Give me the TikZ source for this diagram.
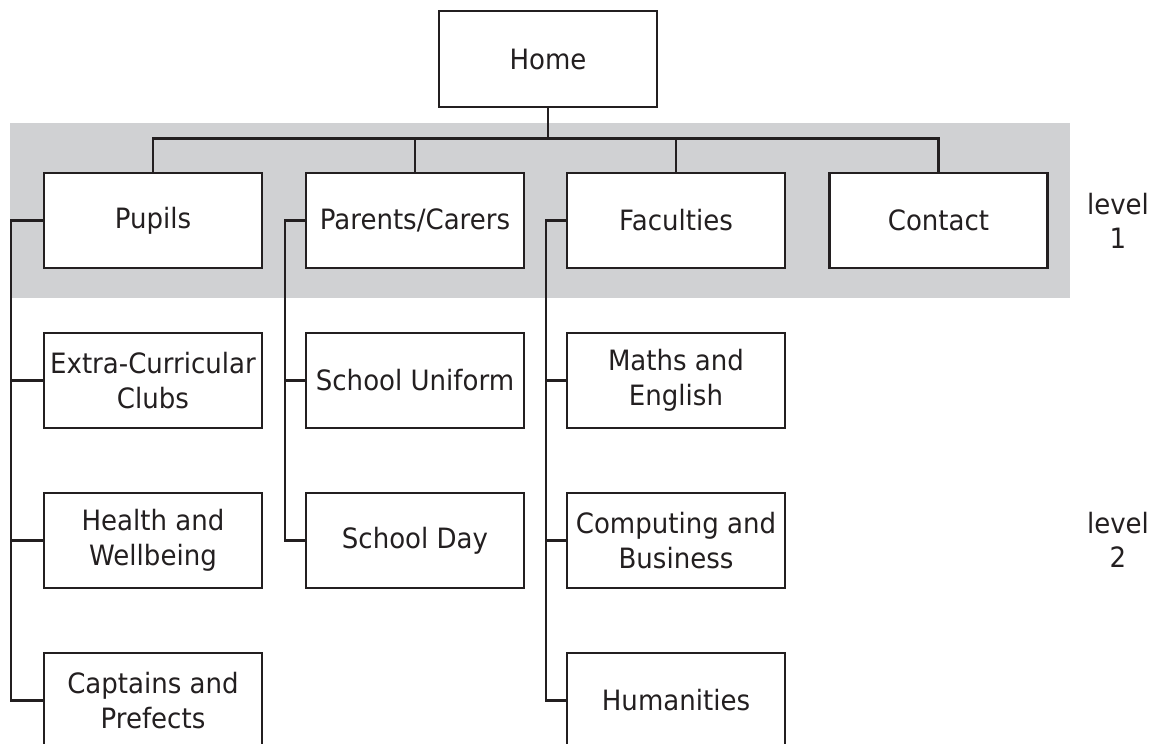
\documentclass[tikz,border=0pt]{standalone}
\usepackage{fontspec}
\setmainfont{DejaVu Sans}[FakeStretch=0.93]
\definecolor{ink}{HTML}{231F20}
\definecolor{band}{HTML}{D0D1D3}
\begin{document}
\begin{tikzpicture}[x=1pt,y=-1pt,
  box/.style={draw=ink, line width=2.6pt, fill=white, minimum width=218pt, minimum height=95pt,
    inner sep=0pt, align=center, text=ink, font=\fontsize{28}{35}\selectfont},
  conn/.style={draw=ink, line width=2.6pt},
  lbl/.style={align=center, text=ink, font=\fontsize{28}{34}\selectfont, inner sep=0pt}]
\useasboundingbox (0,0) rectangle (1152,744);
\clip (0,0) rectangle (1152,744);
\fill[band] (10,123) rectangle (1070,298);
% nodes
\node[box, minimum height=96pt] (home) at (548,59) {Home};
\node[box] (pupils) at (153,220.5) {Pupils};
\node[box] (parents) at (415,220.5) {Parents/Carers};
\node[box] (faculties) at (676,220.5) {Faculties};
\node[box] (contact) at (938.5,220.5) {Contact};
\node[box] (extra) at (153,380.5) {Extra-Curricular\\Clubs};
\node[box] (health) at (153,540.5) {Health and\\Wellbeing};
\node[box] (captains) at (153,700.5) {Captains and\\Prefects};
\node[box] (uniform) at (415,380.5) {School Uniform};
\node[box] (day) at (415,540.5) {School Day};
\node[box] (maths) at (676,380.5) {Maths and\\English};
\node[box] (computing) at (676,540.5) {Computing and\\Business};
\node[box] (humanities) at (676,700.5) {Humanities};
\node[lbl] (lv1) at (1118,221) {level\\1};
\node[lbl] (lv2) at (1118,540) {level\\2};
% coordinates
\coordinate (bus) at (548,138.5);
\coordinate (spP) at (11,0);
\coordinate (spC) at (285,0);
\coordinate (spF) at (546,0);
% connectors level 1
\draw[conn] (home.south) -- (bus);
\draw[conn] (pupils.north) |- (bus) -| (contact.north);
\draw[conn] (parents.north) -- (parents.north |- bus);
\draw[conn] (faculties.north) -- (faculties.north |- bus);
% pupils branch
\draw[conn] (pupils.west) -| (spP |- captains.west) -- (captains.west);
\draw[conn] (extra.west) -- (extra.west -| spP);
\draw[conn] (health.west) -- (health.west -| spP);
% parents branch
\draw[conn] (parents.west) -| (spC |- day.west) -- (day.west);
\draw[conn] (uniform.west) -- (uniform.west -| spC);
% faculties branch
\draw[conn] (faculties.west) -| (spF |- humanities.west) -- (humanities.west);
\draw[conn] (maths.west) -- (maths.west -| spF);
\draw[conn] (computing.west) -- (computing.west -| spF);
\end{tikzpicture}
\end{document}
